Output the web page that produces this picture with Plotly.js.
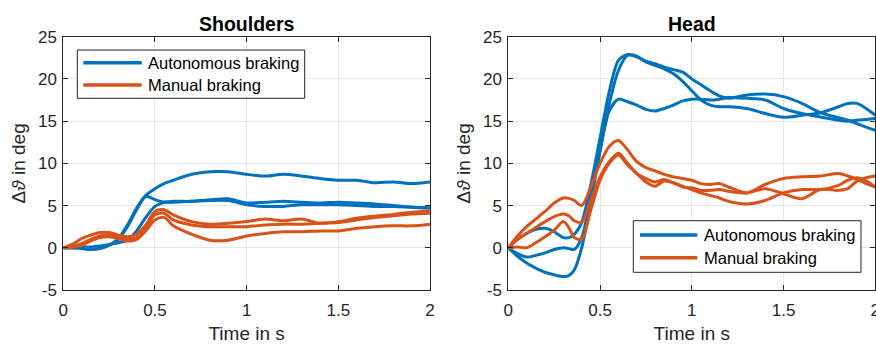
<!DOCTYPE html>
<html>
<head>
<meta charset="utf-8">
<script src="https://cdn.plot.ly/plotly-3.0.1.min.js"></script>
<style>
  html, body { margin: 0; padding: 0; background: #fff; }
  #chart { width: 876px; height: 344px; }
</style>
</head>
<body>
<div id="chart"></div>
<script>
// Rotation angle change (deg) over time for two braking conditions.

// ---- Shoulders panel ----
const timeShoulders = [0, 0.05, 0.1, 0.15, 0.2, 0.25, 0.3, 0.35, 0.4, 0.45, 0.5, 0.55, 0.6, 0.7, 0.8, 0.9, 1.0, 1.1, 1.2, 1.3, 1.4, 1.5, 1.6, 1.7, 1.8, 1.9, 2.0];

const shouldersAuto1 = [0, 0, -0.1, -0.2, -0.1, 0.3, 1.1, 2.7, 4.7, 6.2, 7.0, 7.6, 8.0, 8.7, 9.0, 9.0, 8.7, 8.5, 8.7, 8.5, 8.2, 8.0, 8.0, 7.7, 7.8, 7.6, 7.8];
const shouldersAuto2 = [0, 0, 0, -0.1, 0, 0.3, 1.0, 2.5, 4.5, 6.1, 5.7, 5.4, 5.4, 5.5, 5.6, 5.6, 5.1, 4.9, 4.9, 5.1, 5.1, 5.1, 5.0, 4.9, 4.9, 4.8, 4.7];
const shouldersAuto3 = [0, 0, 0.1, 0.1, 0.2, 0.4, 0.6, 0.9, 2.0, 3.6, 4.9, 5.4, 5.5, 5.5, 5.7, 5.8, 5.3, 5.4, 5.5, 5.4, 5.3, 5.4, 5.3, 5.2, 5.0, 4.8, 4.7];

const shouldersManual1 = [0, 0.4, 1.1, 1.5, 1.8, 1.8, 1.5, 1.3, 1.6, 2.7, 4.3, 4.5, 3.9, 3.1, 2.8, 2.9, 3.1, 3.4, 3.2, 3.4, 2.9, 3.1, 3.5, 3.75, 3.95, 4.2, 4.35];
const shouldersManual2 = [0, 0.2, 0.5, 1.0, 1.4, 1.5, 1.3, 1.0, 1.2, 2.3, 3.9, 4.1, 3.3, 2.7, 2.5, 2.5, 2.5, 2.7, 2.8, 2.8, 2.9, 3.0, 3.3, 3.6, 3.8, 4.0, 4.1];
const shouldersManual3 = [0, 0.1, 0.3, 0.8, 1.2, 1.3, 1.1, 0.8, 1.0, 2.0, 3.3, 3.6, 2.6, 1.6, 0.9, 0.9, 1.4, 1.7, 1.9, 1.9, 2.0, 2.0, 2.3, 2.5, 2.6, 2.6, 2.8];

// ---- Head panel ----
const timeHead = [0, 0.05, 0.1, 0.15, 0.2, 0.25, 0.3, 0.33, 0.36, 0.4, 0.45, 0.5, 0.55, 0.6, 0.65, 0.7, 0.75, 0.8, 0.85, 0.9, 0.95, 1.0, 1.05, 1.1, 1.15, 1.2, 1.3, 1.4, 1.5, 1.6, 1.7, 1.8, 1.85, 1.9, 1.95, 2.0];

const headAuto1 = [0, 1.0, 1.7, 2.2, 2.3, 1.9, 1.2, 1.2, 1.6, 3.0, 7.5, 13.0, 18.5, 22.2, 22.9, 22.6, 22.1, 21.8, 21.4, 21.1, 20.8, 20.0, 19.3, 18.6, 18.0, 17.7, 18.1, 18.2, 17.9, 17.1, 16.0, 15.4, 15.1, 14.7, 14.3, 13.9];
const headAuto2 = [0, -1.0, -1.8, -2.4, -2.9, -3.2, -3.4, -3.3, -2.6, 0.0, 5.5, 11.5, 17.0, 21.0, 22.8, 22.7, 22.0, 21.6, 21.2, 20.6, 19.7, 18.6, 17.5, 16.9, 16.7, 16.7, 16.5, 15.9, 15.45, 15.7, 16.0, 16.7, 17.1, 17.1, 16.5, 15.7];
const headAuto3 = [0, -0.7, -1.1, -0.9, -0.6, -0.2, 0.0, -0.1, -0.2, 1.2, 6.0, 11.5, 16.2, 17.6, 17.3, 16.9, 16.4, 16.2, 16.5, 16.9, 17.4, 17.6, 17.6, 17.5, 17.6, 17.8, 17.7, 17.5, 16.5, 15.9, 15.5, 15.1, 15.0, 15.1, 15.2, 15.3];

const headManual1 = [0, 1.4, 2.5, 3.4, 4.3, 5.3, 5.9, 5.85, 5.6, 5.0, 7.2, 10.0, 12.0, 12.7, 11.6, 10.2, 9.5, 9.1, 8.7, 8.4, 8.2, 8.0, 7.6, 7.5, 7.6, 7.2, 6.5, 7.5, 8.2, 8.4, 8.5, 8.8, 8.5, 8.1, 7.6, 7.2];
const headManual2 = [0, 1.0, 1.7, 2.4, 3.1, 3.7, 4.0, 3.8, 3.2, 3.0, 5.6, 8.4, 10.2, 11.2, 10.0, 8.8, 8.2, 7.8, 8.1, 7.7, 7.3, 6.9, 6.5, 6.2, 5.9, 5.5, 5.2, 5.6, 6.5, 6.9, 6.9, 7.4, 8.0, 8.3, 7.9, 7.2];
const headManual3 = [0, 0.1, 0.0, 0.6, 1.3, 2.1, 3.1, 2.4, 1.2, 1.0, 4.5, 8.0, 10.0, 11.0, 9.8, 8.8, 7.8, 7.3, 7.9, 7.7, 7.2, 7.1, 6.8, 6.8, 6.9, 6.7, 6.5, 7.0, 6.4, 5.8, 6.9, 6.8, 7.0, 7.9, 8.3, 8.5];

const seriesNames = ['Autonomous braking', 'Manual braking'];
const panelTitles = ['Shoulders', 'Head'];
const xTickVals = [0, 0.5, 1, 1.5, 2];
const xTickText = ['0', '0.5', '1', '1.5', '2'];
const yTickVals = [-5, 0, 5, 10, 15, 20, 25];
const yTickText = ['-5', '0', '5', '10', '15', '20', '25'];

const BLUE = '#0072BD';
const ORANGE = '#D95319';
const FONT = 'Liberation Sans, Arial, Helvetica, sans-serif';
const INK = '#262626';
const W = 876, H = 344;

function curve(t, y, color, name, axisSuffix) {
  return {
    type: 'scatter', mode: 'lines',
    x: t, y: y, name: name,
    xaxis: 'x' + axisSuffix, yaxis: 'y' + axisSuffix,
    line: { color: color, width: 3, shape: 'spline', smoothing: 0.8 },
    showlegend: false, hoverinfo: 'skip'
  };
}

const traces = [
  curve(timeShoulders, shouldersAuto1, BLUE, seriesNames[0], ''),
  curve(timeShoulders, shouldersAuto2, BLUE, seriesNames[0], ''),
  curve(timeShoulders, shouldersAuto3, BLUE, seriesNames[0], ''),
  curve(timeShoulders, shouldersManual1, ORANGE, seriesNames[1], ''),
  curve(timeShoulders, shouldersManual2, ORANGE, seriesNames[1], ''),
  curve(timeShoulders, shouldersManual3, ORANGE, seriesNames[1], ''),
  curve(timeHead, headAuto1, BLUE, seriesNames[0], '2'),
  curve(timeHead, headAuto2, BLUE, seriesNames[0], '2'),
  curve(timeHead, headAuto3, BLUE, seriesNames[0], '2'),
  curve(timeHead, headManual1, ORANGE, seriesNames[1], '2'),
  curve(timeHead, headManual2, ORANGE, seriesNames[1], '2'),
  curve(timeHead, headManual3, ORANGE, seriesNames[1], '2')
];

const plotTop = 1 - 36.7 / H, plotBottom = 1 - 290 / H;

function xAxis(domain, anchor) {
  return {
    domain: domain, anchor: anchor, range: [0, 2],
    tickvals: xTickVals, ticktext: xTickText,
    ticks: 'inside', ticklen: 5, tickcolor: INK, tickwidth: 1,
    showline: true, linecolor: INK, linewidth: 1, mirror: 'ticks',
    showgrid: true, gridcolor: '#e6e6e6', gridwidth: 1,
    zeroline: false, ticklabelstandoff: 5, ticklabeloverflow: 'allow',
    tickfont: { family: FONT, size: 17, color: INK },
    title: { text: 'Time in s', font: { family: FONT, size: 19, color: INK }, standoff: 10 }
  };
}
function yAxis(domain, anchor) {
  return {
    domain: domain, anchor: anchor, range: [-5, 25],
    tickvals: yTickVals, ticktext: yTickText,
    ticks: 'inside', ticklen: 5, tickcolor: INK, tickwidth: 1,
    showline: true, linecolor: INK, linewidth: 1, mirror: 'ticks',
    showgrid: true, gridcolor: '#e6e6e6', gridwidth: 1,
    zeroline: false, ticklabelstandoff: 2,
    tickfont: { family: FONT, size: 17, color: INK },
    title: { text: '\u0394<i>\u03D1</i> in deg', font: { family: FONT, size: 19, color: INK }, standoff: 7 }
  };
}

// Legend boxes: frame, line samples and labels in page pixels
const legendBoxes = [
  { x0: 77.3, x1: 304.7, y0: 50, y1: 98.3, rows: [62.7, 85], lineX0: 83.3, lineX1: 141.7, textX: 146 },
  { x0: 633.3, x1: 861, y0: 220.7, y1: 272.3, rows: [235, 257.7], lineX0: 640, lineX1: 697.3, textX: 702 }
];
const legendColors = [BLUE, ORANGE];

const shapes = [];
const annotations = [];
legendBoxes.forEach(function (b) {
  shapes.push({ type: 'rect', xref: 'paper', yref: 'paper',
    x0: b.x0 / W, x1: b.x1 / W, y0: 1 - b.y1 / H, y1: 1 - b.y0 / H,
    fillcolor: '#ffffff', line: { color: INK, width: 1 }, layer: 'above' });
  b.rows.forEach(function (ry, i) {
    shapes.push({ type: 'line', xref: 'paper', yref: 'paper',
      x0: b.lineX0 / W, x1: b.lineX1 / W, y0: 1 - ry / H, y1: 1 - ry / H,
      line: { color: legendColors[i], width: 3.5 }, layer: 'above' });
    annotations.push({ text: seriesNames[i], xref: 'paper', yref: 'paper',
      x: b.textX / W, y: 1 - ry / H, xanchor: 'left', yanchor: 'middle',
      showarrow: false, font: { family: FONT, size: 16.5, color: '#000' } });
  });
});

annotations.push(
  { text: '<b>' + panelTitles[0] + '</b>', xref: 'paper', yref: 'paper',
    x: (63.3 + 430) / 2 / W, y: 1 - 23.5 / H, xanchor: 'center', yanchor: 'middle',
    showarrow: false, font: { family: FONT, size: 19.5, color: '#000' } },
  { text: '<b>' + panelTitles[1] + '</b>', xref: 'paper', yref: 'paper',
    x: (508.3 + 875.3) / 2 / W, y: 1 - 23.5 / H, xanchor: 'center', yanchor: 'middle',
    showarrow: false, font: { family: FONT, size: 19.5, color: '#000' } }
);

const layout = {
  width: W, height: H,
  margin: { l: 0, r: 0, t: 0, b: 0 },
  paper_bgcolor: '#ffffff', plot_bgcolor: '#ffffff',
  showlegend: false,
  xaxis: xAxis([63.3 / W, 430 / W], 'y'),
  yaxis: yAxis([plotBottom, plotTop], 'x'),
  xaxis2: xAxis([508.3 / W, 875.3 / W], 'y2'),
  yaxis2: yAxis([plotBottom, plotTop], 'x2'),
  shapes: shapes,
  annotations: annotations
};

Plotly.newPlot('chart', traces, layout, { staticPlot: true, displayModeBar: false });
</script>
</body>
</html>
